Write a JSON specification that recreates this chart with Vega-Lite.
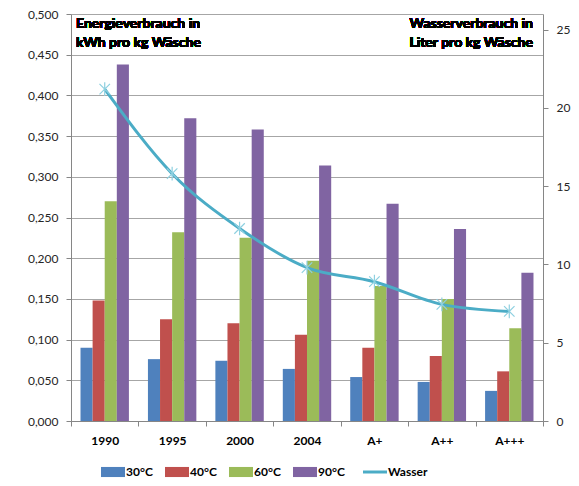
{
  "$schema": "https://vega.github.io/schema/vega-lite/v6.json",
  "width": 472,
  "height": 407,
  "padding": {"left": 27, "top": 8, "right": 5, "bottom": 5},
  "background": "white",
  "config": {
    "locale": {"number": {"decimal": ",", "thousands": ".", "grouping": [3], "currency": ["", " €"]}},
    "font": "Lato",
    "view": {"stroke": null},
    "axis": {"labelFont": "Lato", "labelFontSize": 12, "labelColor": "#262626", "domainColor": "#868686", "tickColor": "#868686", "gridColor": "#a6a6a6", "title": null}
  },
  "datasets": {
    "energie": [
      {"cat": "1990", "temp": "30°C", "kwh": 0.090},
      {"cat": "1990", "temp": "40°C", "kwh": 0.148},
      {"cat": "1990", "temp": "60°C", "kwh": 0.270},
      {"cat": "1990", "temp": "90°C", "kwh": 0.438},
      {"cat": "1995", "temp": "30°C", "kwh": 0.076},
      {"cat": "1995", "temp": "40°C", "kwh": 0.125},
      {"cat": "1995", "temp": "60°C", "kwh": 0.232},
      {"cat": "1995", "temp": "90°C", "kwh": 0.372},
      {"cat": "2000", "temp": "30°C", "kwh": 0.074},
      {"cat": "2000", "temp": "40°C", "kwh": 0.120},
      {"cat": "2000", "temp": "60°C", "kwh": 0.225},
      {"cat": "2000", "temp": "90°C", "kwh": 0.358},
      {"cat": "2004", "temp": "30°C", "kwh": 0.064},
      {"cat": "2004", "temp": "40°C", "kwh": 0.106},
      {"cat": "2004", "temp": "60°C", "kwh": 0.197},
      {"cat": "2004", "temp": "90°C", "kwh": 0.314},
      {"cat": "A+", "temp": "30°C", "kwh": 0.054},
      {"cat": "A+", "temp": "40°C", "kwh": 0.090},
      {"cat": "A+", "temp": "60°C", "kwh": 0.166},
      {"cat": "A+", "temp": "90°C", "kwh": 0.267},
      {"cat": "A++", "temp": "30°C", "kwh": 0.048},
      {"cat": "A++", "temp": "40°C", "kwh": 0.080},
      {"cat": "A++", "temp": "60°C", "kwh": 0.150},
      {"cat": "A++", "temp": "90°C", "kwh": 0.236},
      {"cat": "A+++", "temp": "30°C", "kwh": 0.037},
      {"cat": "A+++", "temp": "40°C", "kwh": 0.061},
      {"cat": "A+++", "temp": "60°C", "kwh": 0.114},
      {"cat": "A+++", "temp": "90°C", "kwh": 0.182}
    ],
    "wasser": [
      {"cat": "1990", "liter": 21.2},
      {"cat": "1995", "liter": 15.8},
      {"cat": "2000", "liter": 12.3},
      {"cat": "2004", "liter": 9.8},
      {"cat": "A+", "liter": 8.9},
      {"cat": "A++", "liter": 7.45},
      {"cat": "A+++", "liter": 7.0}
    ]
  },
  "layer": [
    {
      "data": {"name": "energie"},
      "layer": [
        {
          "mark": {"type": "bar"},
          "encoding": {
            "x": {"field": "cat", "type": "nominal", "sort": null,
                  "scale": {"paddingInner": 0, "paddingOuter": 0},
                  "axis": {"tickBand": "extent", "labelAngle": 0, "labelFontWeight": "bold", "labelColor": "#000000", "tickSize": 5, "labelPadding": 9, "grid": false}},
            "xOffset": {"field": "temp", "type": "nominal", "scale": {"paddingInner": 0, "paddingOuter": 0.786}},
            "y": {"field": "kwh", "type": "quantitative",
                  "scale": {"domain": [0, 0.5]},
                  "axis": {"values": [0, 0.05, 0.1, 0.15, 0.2, 0.25, 0.3, 0.35, 0.4, 0.45, 0.5], "format": ".3f", "tickSize": 5, "labelPadding": 8, "grid": true}},
            "color": {"field": "temp", "type": "nominal",
                      "scale": {"domain": ["30°C", "40°C", "60°C", "90°C", "Wasser"], "range": ["#4F81BD", "#C0504D", "#9BBB59", "#8064A2", "#4BACC6"]},
                      "legend": {"orient": "none", "legendX": 36, "legendY": 452, "title": null, "direction": "horizontal", "symbolSize": 576,
                                 "labelFontWeight": "bold", "labelFontSize": 12, "labelColor": "#000000", "labelOffset": 7, "columnPadding": 12,
                                 "encode": {"symbols": {"update": {
                                   "shape": {"signal": "datum.value === 'Wasser' ? 'M-1,0L1,0' : 'M-1,-0.42L1,-0.42L1,0.42L-1,0.42Z'"},
                                   "strokeWidth": {"signal": "datum.value === 'Wasser' ? 3 : 0"},
                                   "stroke": {"signal": "datum.value === 'Wasser' ? '#4BACC6' : 'transparent'"},
                                   "fill": {"signal": "datum.value === 'Wasser' ? 'transparent' : scale('color', datum.value)"},
                                   "opacity": {"value": 1}
                                 }}}}}
          }
        },
        {
          "mark": {"type": "text", "text": ["Energieverbrauch in", "kWh pro kg Wäsche"], "align": "left", "baseline": "top", "dx": 5, "dy": 3, "fontSize": 14, "fontWeight": "bold", "lineHeight": 19, "color": "#000000"},
          "encoding": {
            "x": {"datum": "1990", "bandPosition": 0},
            "y": {"datum": 0.5, "type": "quantitative"}
          }
        },
        {
          "mark": {"type": "text", "text": ["Wasserverbrauch in", "Liter pro kg Wäsche"], "align": "right", "baseline": "top", "dx": -10, "dy": 3, "fontSize": 14, "fontWeight": "bold", "lineHeight": 19, "color": "#000000"},
          "encoding": {
            "x": {"datum": "A+++", "bandPosition": 1},
            "y": {"datum": 0.5, "type": "quantitative"}
          }
        }
      ]
    },
    {
      "data": {"name": "wasser"},
      "layer": [
        {
          "mark": {"type": "line", "interpolate": "monotone", "strokeWidth": 3},
          "encoding": {
            "x": {"field": "cat", "type": "nominal", "sort": null},
            "y": {"field": "liter", "type": "quantitative", "scale": {"domain": [0, 25]},
                  "axis": {"orient": "right", "values": [0, 5, 10, 15, 20, 25], "grid": false, "tickSize": 5, "labelPadding": 8}},
            "color": {"datum": "Wasser"}
          }
        },
        {
          "mark": {"type": "point", "shape": "M-1,-1L1,1M-1,1L1,-1M0,-1.3L0,1.3", "filled": false, "stroke": "#8ED0E0", "strokeWidth": 1.2, "size": 110, "opacity": 1},
          "encoding": {
            "x": {"field": "cat", "type": "nominal", "sort": null},
            "y": {"field": "liter", "type": "quantitative"}
          }
        }
      ]
    }
  ],
  "resolve": {"scale": {"y": "independent"}}
}
